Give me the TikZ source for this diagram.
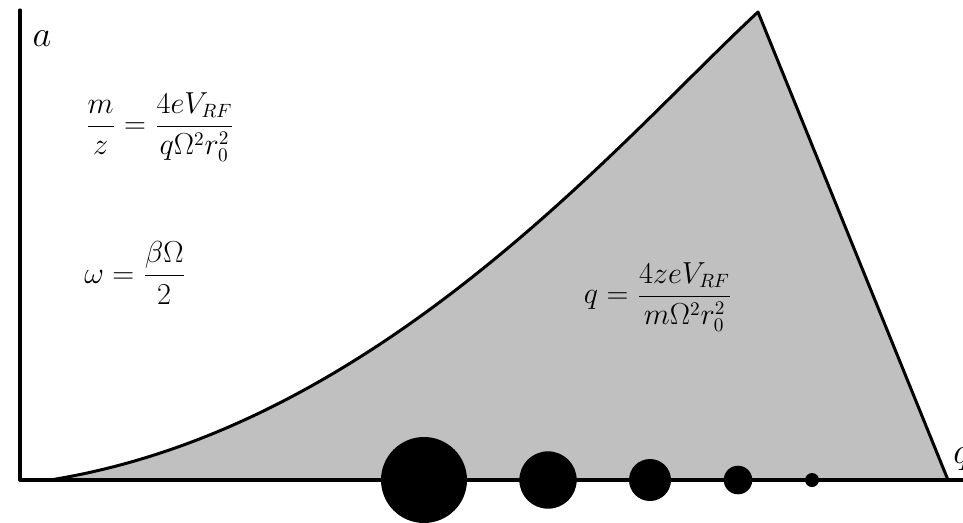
\documentclass[tikz,border=0pt]{standalone}
\usepackage{amsmath}
\definecolor{stabgray}{RGB}{192,192,192}
\begin{document}
\begin{tikzpicture}[x=0.02cm,y=-0.02cm, line join=round, line cap=round]
        \useasboundingbox (0,0) rectangle (963,522);
        \coordinate (O) at (20,480);
        \coordinate (top) at (20,10);
        \coordinate (right) at (963,480);
        \coordinate (start) at (50,480);
        \coordinate (apex) at (758,12);
        \coordinate (cut) at (948,480);
        \fill[stabgray] (start) .. controls (380,427) and (620,140) .. (apex) -- (cut) -- cycle;
        \draw[line width=1.7pt] (start) .. controls (380,427) and (620,140) .. (apex) -- (cut);
        \draw[line width=1.8pt] (top) -- (O) -- (right);
        \node (alab) at (42,39) {\fontsize{20}{24}\selectfont $a$};
        \node[anchor=west,inner sep=0pt] (qlab) at (953,459) {\fontsize{20}{24}\selectfont $q$};
        \node (mzeq) at (160,127) {\fontsize{16}{19}\selectfont $\dfrac{m}{z}=\dfrac{4eV_{RF}}{q\Omega^2r_0^2}$};
        \node (omegaeq) at (135,273) {\fontsize{16}{19}\selectfont $\omega=\dfrac{\beta\Omega}{2}$};
        \node (qeq) at (658,297) {\fontsize{16}{19}\selectfont $q=\dfrac{4zeV_{RF}}{m\Omega^2r_0^2}$};
        \fill[black] (424,480) circle (43) (548,480) circle (28.7) (650,480) circle (21) (738,480) circle (14.3) (812,480) circle (7);
    \end{tikzpicture}
\end{document}
